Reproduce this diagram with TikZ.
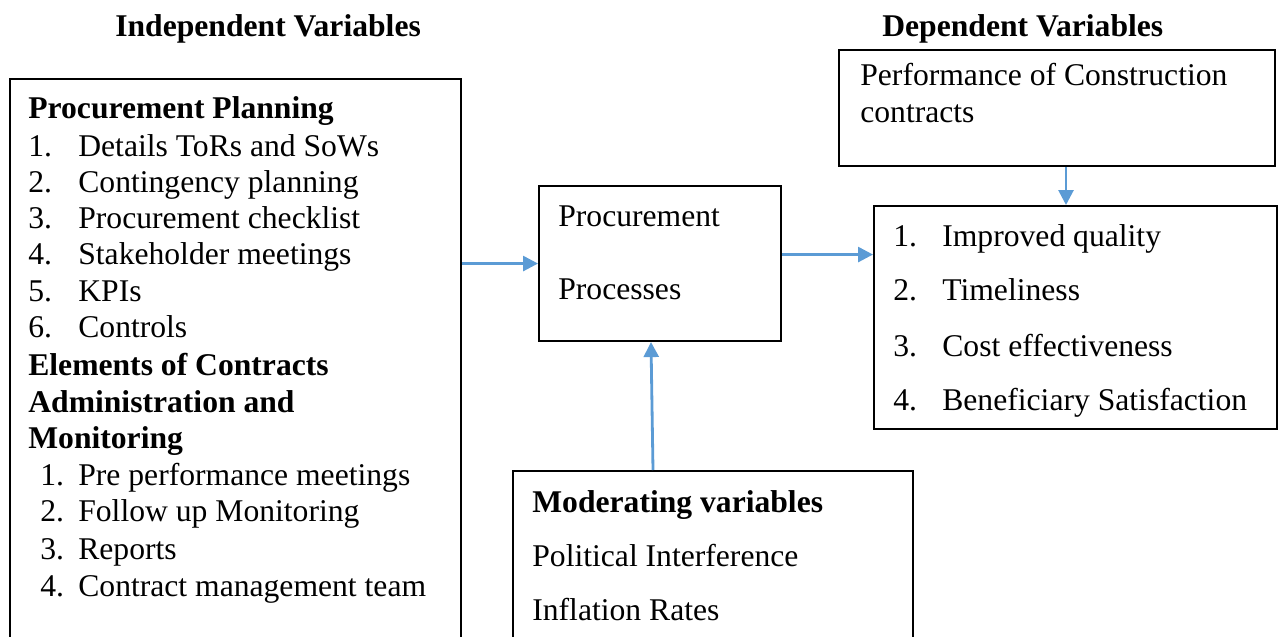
\documentclass[tikz,border=0pt]{standalone}
\usepackage{fontspec}
\setmainfont{Liberation Serif}
\usetikzlibrary{arrows.meta}
\definecolor{flowblue}{RGB}{91,155,213}
\tikzset{
  box/.style={draw=black, line width=1.2pt, anchor=north west, inner sep=0pt},
  txt/.style={anchor=base west, inner sep=0pt, font=\fontsize{18}{21.6}\selectfont},
  head/.style={txt, font=\fontsize{18}{21.6}\selectfont\bfseries},
  flow/.style={draw=flowblue, line width=1.6pt, -{Triangle[length=0.3cm,width=0.3cm]}},
}
\begin{document}
\begin{tikzpicture}[x=0.02cm, y=-0.02cm]
  \clip (0,0) rectangle (1278,636);

  % headings
  \node[head] (indep) at (115,36) {Independent Variables};
  \node[head] (dep) at (882,36) {Dependent Variables};

  % boxes
  \node[box, minimum width=9.02cm, minimum height=11.64cm] (plan) at (9,78) {};
  \node[box, minimum width=4.84cm, minimum height=3.1cm] (proc) at (538,185) {};
  \node[box, minimum width=8.72cm, minimum height=2.32cm] (perf) at (838,49) {};
  \node[box, minimum width=8.06cm, minimum height=4.46cm] (result) at (873,205) {};
  \node[box, minimum width=8cm, minimum height=3.8cm] (moder) at (512,470) {};

  % independent variables
  \node[head] (plan-title) at (28,118) {Procurement Planning};
  \foreach \i/\item/\y in {1/Details ToRs and SoWs/156, 2/Contingency planning/192,
      3/Procurement checklist/228, 4/Stakeholder meetings/264, 5/KPIs/301, 6/Controls/337} {
    \node[txt] (plan-n\i) at (28,\y) {\i.};
    \node[txt] (plan-t\i) at (78,\y) {\item};
  }
  \node[head] (admin-title1) at (28,375) {Elements of Contracts};
  \node[head] (admin-title2) at (28,412) {Administration and};
  \node[head] (admin-title3) at (28,448) {Monitoring};
  \foreach \i/\item/\y in {1/Pre performance meetings/485, 2/Follow up Monitoring/521,
      3/Reports/559, 4/Contract management team/596} {
    \node[txt] (admin-n\i) at (40,\y) {\i.};
    \node[txt] (admin-t\i) at (78,\y) {\item};
  }

  % procurement processes
  \node[txt] (proc-t1) at (558,226) {Procurement};
  \node[txt] (proc-t2) at (558,299) {Processes};

  % dependent variables
  \node[txt] (perf-t1) at (860,85) {Performance of Construction};
  \node[txt] (perf-t2) at (860,122) {contracts};
  \foreach \i/\item/\y in {1/Improved quality/246, 2/Timeliness/300,
      3/Cost effectiveness/356, 4/Beneficiary Satisfaction/410} {
    \node[txt] (result-n\i) at (893,\y) {\i.};
    \node[txt] (result-t\i) at (942,\y) {\item};
  }

  % moderating variables
  \node[head] (moder-title) at (532,512) {Moderating variables};
  \node[txt] (moder-t1) at (532,566) {Political Interference};
  \node[txt] (moder-t2) at (532,620) {Inflation Rates};

  % connectors
  \draw[flow] (plan.east |- proc.west) -- (proc.west);
  \draw[flow] ([yshift=0.18cm]proc.east) -- ([yshift=0.18cm]proc.east -| result.west);
  \draw[flow] (perf.south -| 1066,0) -- (result.north -| 1066,0);
  \draw[flow] (moder.north -| 653,0) -- (proc.south -| 651,0);
\end{tikzpicture}
\end{document}
